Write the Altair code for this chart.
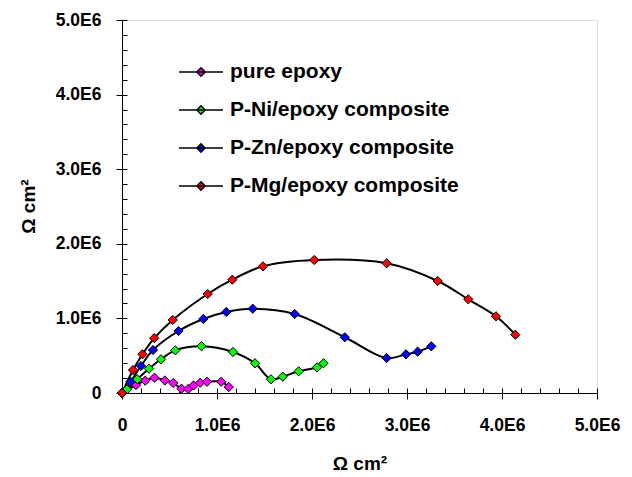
import altair as alt
import pandas as pd

# ---- data (values in units of 1E6 ohm cm^2) ----
series_names = ["pure epoxy", "P-Ni/epoxy composite", "P-Zn/epoxy composite", "P-Mg/epoxy composite"]
series_colors = ["#FF00FF", "#00FF00", "#0000FF", "#FF0000"]

pure_x = [0, 0.147, 0.244, 0.342, 0.451, 0.539, 0.626, 0.697, 0.753, 0.823, 0.895, 1.044, 1.124]
pure_y = [0, 0.107, 0.165, 0.205, 0.168, 0.134, 0.058, 0.054, 0.101, 0.138, 0.151, 0.151, 0.080]

ni_x = [0, 0.053, 0.160, 0.284, 0.410, 0.561, 0.837, 1.168, 1.400, 1.568, 1.692, 1.860, 2.053, 2.121]
ni_y = [0, 0.050, 0.185, 0.326, 0.452, 0.572, 0.627, 0.550, 0.398, 0.184, 0.219, 0.291, 0.344, 0.398]

zn_x = [0, 0.089, 0.200, 0.326, 0.595, 0.856, 1.098, 1.376, 1.818, 2.345, 2.786, 2.989, 3.112, 3.256]
zn_y = [0, 0.151, 0.362, 0.576, 0.831, 0.992, 1.086, 1.130, 1.059, 0.747, 0.469, 0.519, 0.554, 0.626]

mg_x = [0, 0.116, 0.216, 0.339, 0.534, 0.902, 1.161, 1.484, 2.023, 2.786, 3.323, 3.645, 3.937, 4.140]
mg_y = [0, 0.308, 0.519, 0.735, 0.979, 1.327, 1.519, 1.698, 1.783, 1.739, 1.501, 1.256, 1.028, 0.782]

major_ticks = [0, 1e6, 2e6, 3e6, 4e6, 5e6]
minor_ticks = [i * 0.2e6 for i in range(26)]

rows = []
for name, xs, ys in zip(series_names, [pure_x, ni_x, zn_x, mg_x], [pure_y, ni_y, zn_y, mg_y]):
    for i, (xv, yv) in enumerate(zip(xs, ys)):
        rows.append({"series": name, "x": xv * 1e6, "y": yv * 1e6, "i": i})
df = pd.DataFrame(rows)

FONT = "Liberation Sans"
label_expr = "datum.value == 0 ? '0' : format(datum.value / 1000000, '.1f') + 'E6'"

xscale = alt.Scale(domain=[0, 5e6], nice=False, zero=False)
yscale = alt.Scale(domain=[0, 5e6], nice=False, zero=False)

base = alt.Chart(df)

lines = base.mark_line(color="black", strokeWidth=2, interpolate="catmull-rom").encode(
    x=alt.X("x:Q", scale=xscale,
            axis=alt.Axis(orient="bottom", values=major_ticks, labelExpr=label_expr, grid=False,
                          tickSize=6, tickColor="black", domainColor="black", domainWidth=1,
                          labelFont=FONT, labelFontSize=17.5, labelFontWeight="bold", labelColor="black",
                          labelFlush=False, labelOverlap=False,
                          labelPadding=17, title="Ω cm²", titleFont=FONT, titleFontSize=19,
                          titleFontWeight="bold", titleColor="black", titleBaseline="middle", titleY=70)),
    y=alt.Y("y:Q", scale=yscale,
            axis=alt.Axis(orient="left", values=major_ticks, labelExpr=label_expr, grid=False,
                          tickSize=6, tickColor="black", domainColor="black", domainWidth=1,
                          labelFont=FONT, labelFontSize=17.5, labelFontWeight="bold", labelColor="black",
                          labelFlush=False, labelOverlap=False,
                          labelPadding=15, title="Ω cm²", titleFont=FONT, titleFontSize=19,
                          titleFontWeight="bold", titleColor="black", titleBaseline="middle",
                          titleX=-94, titleY=186)),
    detail="series:N",
    order="i:Q",
)

points = base.mark_point(shape="diamond", filled=True, size=85, stroke="black", strokeWidth=1, opacity=1).encode(
    x=alt.X("x:Q", scale=xscale,
            axis=alt.Axis(orient="bottom", values=minor_ticks, labels=False, domain=False, grid=False,
                          tickSize=5, tickColor="black", offset=-5, title=None)),
    y=alt.Y("y:Q", scale=yscale,
            axis=alt.Axis(orient="left", values=minor_ticks, labels=False, domain=False, grid=False,
                          tickSize=5, tickColor="black", offset=-5, title=None)),
    fill=alt.Fill("series:N", scale=alt.Scale(domain=series_names, range=series_colors),
                  legend=alt.Legend(title=None, orient="none", legendX=56, legendY=29,
                                    symbolType="M-1,0H1M0,-0.19L0.19,0L0,0.19L-0.19,0Z",
                                    symbolSize=1936, symbolStrokeColor="black", symbolStrokeWidth=1.5,
                                    labelFont=FONT, labelFontSize=21, labelFontWeight="bold",
                                    labelColor="black", labelOffset=6, labelLimit=0,
                                    padding=0, rowPadding=5)),
)

chart = alt.layer(lines, points).resolve_axis(x="independent", y="independent").properties(
    width=475, height=373,
    autosize=alt.AutoSizeParams(type="none"),
    padding={"left": 114, "top": 12, "right": 26, "bottom": 90},
).configure_view(stroke=None).configure(background="white")

chart.save("out.html", embed_options={"renderer": "svg", "actions": False})
